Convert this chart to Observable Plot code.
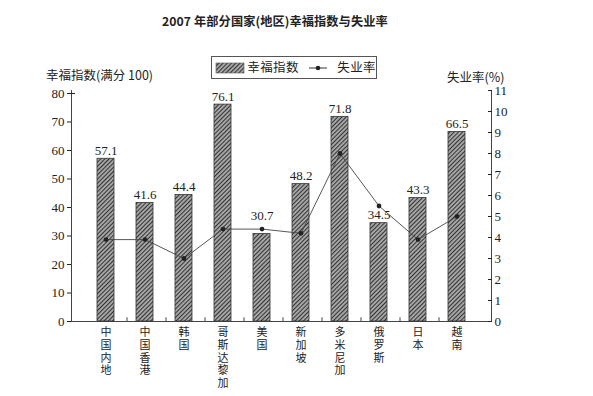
<!DOCTYPE html>
<html><head><meta charset="utf-8">
<script src="https://cdn.jsdelivr.net/npm/d3@7"></script>
<script src="https://cdn.jsdelivr.net/npm/@observablehq/plot@0.6"></script>
<style>
body{margin:0;background:#fff;}
#wrap{position:relative;width:593px;height:396px;font-family:"Noto Sans CJK SC",sans-serif;color:#222;}
#wrap svg.plot{position:absolute;left:0;top:0;}
.abs{position:absolute;white-space:nowrap;line-height:1;}
#title{left:162px;top:15px;font-size:12.2px;font-weight:bold;letter-spacing:0.1px;}
#ltitle{left:46px;top:69px;font-size:12.5px;}
#rtitle{left:447px;top:71px;font-size:12.5px;}
#legend{left:211px;top:56px;width:164px;height:21px;border:1px solid #555;font-size:12.5px;display:flex;align-items:center;}
#legend span{letter-spacing:0.4px;}
</style>
</head><body>
<div id="wrap">
  <div id="title" class="abs">2007 年部分国家(地区)幸福指数与失业率</div>
  <div id="ltitle" class="abs">幸福指数(满分 100)</div>
  <div id="rtitle" class="abs">失业率(%)</div>
  <div id="legend" class="abs">
    <svg width="33" height="12" style="margin-left:3px"><rect x="1" y="1" width="28" height="10" fill="url(#hatch)" stroke="#555" stroke-width="0.6"/></svg>
    <span>幸福指数</span>
    <svg width="30" height="12" style="margin-left:9px"><line x1="1" x2="19" y1="6" y2="6" stroke="#333"/><circle cx="10" cy="6" r="2.3" fill="#222"/></svg>
    <span>失业率</span>
  </div>
</div>
<script>
const countries = ["中国内地","中国香港","韩国","哥斯达黎加","美国","新加坡","多米尼加","俄罗斯","日本","越南"];
const happiness = [57.1, 41.6, 44.4, 76.1, 30.7, 48.2, 71.8, 34.5, 43.3, 66.5];
const unemployment = [3.9, 3.9, 3.0, 4.4, 4.4, 4.2, 8.0, 5.5, 3.9, 5.0];
const leftTicks = [0,10,20,30,40,50,60,70,80];
const rightTicks = [0,1,2,3,4,5,6,7,8,9,10,11];

const YMAX = 81.05;          // top of the plotting area in left-axis units
const K = YMAX / 11;         // right-axis unit -> left-axis unit
const data = countries.map((c,i)=>({country:c, h:happiness[i], u:unemployment[i]*K}));

const serif = "'Liberation Serif', 'DejaVu Serif', serif";
// lift a value label above the rate dot only when the dot sits just above the bar top
const labelY = d => (d.u > d.h && d.u - d.h < 4) ? d.u + 2 : d.h;
const plot = Plot.plot({
  width: 593, height: 396,
  marginLeft: 71, marginRight: 102, marginTop: 90, marginBottom: 75,
  x: {domain: countries, padding: 0.57},
  y: {domain: [0, YMAX]},
  style: {fontFamily: serif, fontSize: "13px", color: "#222", background: "transparent"},
  marks: [
    Plot.frame({anchor: "left", stroke: "#444"}),
    Plot.frame({anchor: "right", stroke: "#444"}),
    Plot.frame({anchor: "bottom", stroke: "#444"}),
    Plot.barY(data, {x: "country", y: "h", fill: "url(#hatch)", stroke: "#333", strokeWidth: 0.8}),
    Plot.text(data, {x: "country", y: labelY, text: d => d.h.toFixed(1), dy: -8, fontFamily: serif, fontSize: 13, fill: "#222"}),
    Plot.ruleX(countries.slice(0, -1), {x: d => d, y1: 0, y2: 1.3, dx: 21, stroke: "#444"}),
    Plot.line(data, {x: "country", y: "u", stroke: "#444", strokeWidth: 0.9}),
    Plot.dot(data, {x: "country", y: "u", r: 2.4, fill: "#222"}),
    Plot.axisY({ticks: leftTicks, tickSize: 4, tickPadding: 3, label: null, fontFamily: serif, fontSize: 13}),
    Plot.axisY({ticks: [80], tickSize: -4, tickFormat: () => "", label: null}),
    Plot.axisY({anchor: "right", ticks: rightTicks.map(r => r*K), tickFormat: v => String(Math.round(v/K)), tickSize: -4, tickPadding: 7, label: null, fontFamily: serif, fontSize: 13}),
    Plot.axisX({tickSize: 0, tickPadding: 6, label: null, tickFormat: d => d.split("").join("\n"), lineHeight: 1.15, fontFamily: "'Noto Sans CJK SC', sans-serif", fontSize: 11})
  ]
});
plot.classList.add("plot");
const ns = "http://www.w3.org/2000/svg";
const defs = document.createElementNS(ns, "defs");
defs.innerHTML = '<pattern id="hatch" width="3" height="3" patternUnits="userSpaceOnUse" patternTransform="rotate(45)"><rect width="3" height="3" fill="#a8a8a8"/><line x1="0.5" y1="0" x2="0.5" y2="3" stroke="#333" stroke-width="1.1"/></pattern>';
plot.insertBefore(defs, plot.firstChild);
document.getElementById("wrap").insertBefore(plot, document.getElementById("wrap").firstChild);
</script>
</body></html>
